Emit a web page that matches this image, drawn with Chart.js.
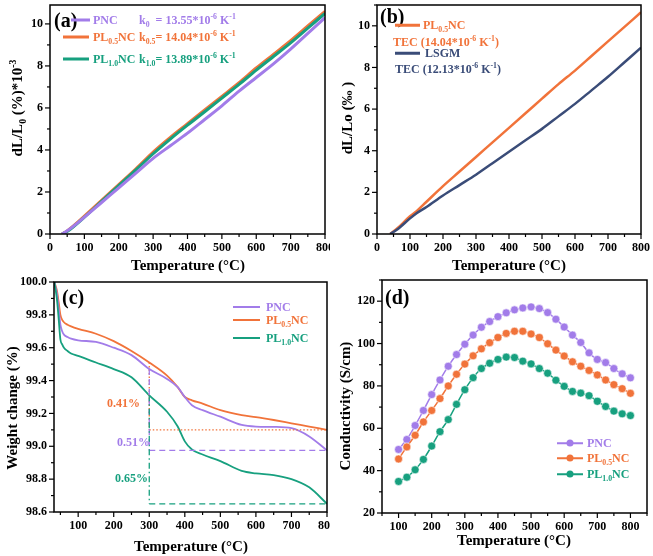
<!DOCTYPE html>
<html>
<head>
<meta charset="utf-8">
<script src="https://cdn.jsdelivr.net/npm/chart.js@4/dist/chart.umd.min.js"></script>
<style>
  body { margin: 0; background: #fff; }
  #wrap { position: relative; width: 653px; height: 556px; overflow: hidden; font-family: "Liberation Serif", "DejaVu Serif", serif; font-weight: bold; }
  canvas { position: absolute; }
  .t { position: absolute; white-space: nowrap; transform: translateY(-50%); line-height: 1; }
  .rot { position: absolute; white-space: nowrap; transform: translate(-50%, -50%) rotate(-90deg); line-height: 1; }
  .ctr { position: absolute; white-space: nowrap; transform: translate(-50%, -50%); line-height: 1; }
  sub, sup { font-size: 65%; line-height: 0; }
  .ls { position: absolute; height: 3px; transform: translateY(-50%); }
  .dot { position: absolute; width: 7px; height: 7px; border-radius: 50%; transform: translate(-50%, -50%); }
</style>
</head>
<body>
<div id="wrap">
  <canvas id="chartA" width="330" height="275" style="left:0;top:0"></canvas>
  <canvas id="chartB" width="323" height="275" style="left:330px;top:0"></canvas>
  <canvas id="chartC" width="330" height="281" style="left:0;top:275px"></canvas>
  <canvas id="chartD" width="323" height="281" style="left:330px;top:275px"></canvas>
</div>
<script>
const PURPLE = "#a27ce9";
const ORANGE = "#f1733a";
const GREEN = "#17a07f";
const NAVY = "#3a4c78";

// ---------- (a) dilatometry ----------
const tempA = [35, 50, 100, 150, 200, 250, 300, 350, 400, 450, 500, 550, 600, 650, 700, 750, 800];
const dilPNC = [0, 0.15, 0.8, 1.5, 2.2, 2.9, 3.6, 4.2, 4.8, 5.45, 6.1, 6.8, 7.45, 8.1, 8.8, 9.55, 10.3];
const dilPL05 = [0, 0.15, 0.85, 1.6, 2.35, 3.1, 3.9, 4.6, 5.25, 5.9, 6.55, 7.2, 7.9, 8.55, 9.2, 9.9, 10.6];
const dilPL10 = [0, 0.12, 0.8, 1.55, 2.3, 3.05, 3.82, 4.52, 5.18, 5.82, 6.47, 7.12, 7.8, 8.45, 9.1, 9.8, 10.5];
const xTicksA = [0, 100, 200, 300, 400, 500, 600, 700, 800];
const yTicksA = [0, 2, 4, 6, 8, 10];

// ---------- (b) PL0.5NC vs LSGM ----------
const tempB = [40, 60, 100, 120, 150, 200, 250, 300, 350, 400, 450, 500, 550, 600, 650, 700, 750, 800];
const dilBPL05 = [0, 0.25, 0.85, 1.1, 1.55, 2.3, 3.0, 3.7, 4.4, 5.1, 5.8, 6.5, 7.2, 7.85, 8.55, 9.25, 9.95, 10.65];
const dilLSGM = [0, 0.2, 0.75, 1.0, 1.3, 1.85, 2.35, 2.85, 3.4, 3.95, 4.5, 5.05, 5.65, 6.25, 6.9, 7.55, 8.25, 8.95];
const xTicksB = [0, 100, 200, 300, 400, 500, 600, 700, 800];
const yTicksB = [0, 2, 4, 6, 8, 10];

// ---------- (c) TGA ----------
const tempC = [33, 40, 45, 50, 55, 60, 70, 80, 100, 150, 200, 250, 300, 350, 380, 400, 420, 450, 500, 560, 600, 650, 700, 750, 800];
const wPNC = [100.0, 99.93, 99.84, 99.74, 99.70, 99.68, 99.665, 99.655, 99.645, 99.635, 99.60, 99.555, 99.47, 99.41, 99.36, 99.30, 99.25, 99.22, 99.18, 99.13, 99.12, 99.118, 99.11, 99.06, 98.975];
const wPL05 = [100.0, 99.95, 99.88, 99.80, 99.77, 99.755, 99.74, 99.73, 99.715, 99.685, 99.64, 99.58, 99.51, 99.43, 99.36, 99.30, 99.28, 99.26, 99.22, 99.19, 99.178, 99.16, 99.14, 99.12, 99.10];
const wPL10 = [100.0, 99.90, 99.78, 99.65, 99.62, 99.60, 99.58, 99.565, 99.55, 99.51, 99.47, 99.42, 99.31, 99.21, 99.12, 99.03, 98.98, 98.95, 98.91, 98.85, 98.835, 98.825, 98.80, 98.75, 98.65];
// weight-loss guide lines: start temp, end temp, top and bottom levels (PL0.5, PNC, PL1.0)
const lossFrom = 300;
const lossTo = 800;
const lossTop = [99.51, 99.47, 99.31];
const lossBottom = [99.10, 98.975, 98.65];
const xTicksC = [100, 200, 300, 400, 500, 600, 700, 800];
const yTicksC = [98.6, 98.8, 99.0, 99.2, 99.4, 99.6, 99.8, 100.0];

// ---------- (d) conductivity ----------
const tempD = [100, 125, 150, 175, 200, 225, 250, 275, 300, 325, 350, 375, 400, 425, 450, 475, 500, 525, 550, 575, 600, 625, 650, 675, 700, 725, 750, 775, 800];
const sPNC = [50, 54.7, 61.3, 68.4, 75.9, 82.8, 89.3, 94.8, 99.7, 104, 107.7, 110.4, 112.7, 114.5, 115.9, 116.8, 117.3, 116.5, 114.6, 111.5, 107.8, 104, 100.5, 95.6, 92.5, 91, 88.2, 85.7, 83.8];
const sPL05 = [45.5, 51.2, 56.7, 63, 68.4, 74, 80, 85.5, 90.3, 94.2, 97.5, 100.4, 102.8, 104.8, 105.8, 105.8, 104.5, 102.8, 99.9, 96.9, 94.1, 91.4, 89.3, 87.3, 85.2, 82.8, 80.6, 78.7, 76.5];
const sPL10 = [34.9, 36.9, 40.4, 45.3, 51.6, 58.4, 64.1, 71.3, 78.2, 83.9, 88.2, 90.7, 92.5, 93.6, 93.4, 91.7, 90.4, 88.2, 86, 82.7, 79.8, 77.4, 76.6, 75.4, 72.7, 70.3, 68.1, 66.8, 66];
const xTicksD = [100, 200, 300, 400, 500, 600, 700, 800];
const yTicksD = [20, 40, 60, 80, 100, 120];

function pts(xs, ys) {
  return xs.map((x, i) => ({ x: x, y: ys[i] }));
}

// frame box + outward major/minor ticks drawn through the chart scales
const frameTicks = {
  id: "frameTicks",
  afterDraw(chart, args, opts) {
    const { ctx, chartArea: a, scales } = chart;
    const x = scales.x, y = scales.y;
    ctx.save();
    ctx.strokeStyle = "#000";
    ctx.lineWidth = 1.5;
    ctx.strokeRect(a.left, a.top, a.right - a.left, a.bottom - a.top);
    ctx.lineWidth = 1.2;
    const seg = (x1, y1, x2, y2) => { ctx.beginPath(); ctx.moveTo(x1, y1); ctx.lineTo(x2, y2); ctx.stroke(); };
    const minors = (ticks, lo, hi) => {
      const step = ticks[1] - ticks[0];
      const out = [];
      for (let v = ticks[0] - step / 2; v <= hi + 1e-9; v += step) if (v >= lo - 1e-9) out.push(v);
      return out;
    };
    opts.xt.forEach(v => { const p = x.getPixelForValue(v); seg(p, a.bottom, p, a.bottom + 5); });
    minors(opts.xt, x.min, x.max).forEach(v => { const p = x.getPixelForValue(v); seg(p, a.bottom, p, a.bottom + 3); });
    opts.yt.forEach(v => { const p = y.getPixelForValue(v); seg(a.left, p, a.left - 5, p); });
    minors(opts.yt, y.min, y.max).forEach(v => { const p = y.getPixelForValue(v); seg(a.left, p, a.left - 3, p); });
    ctx.restore();
  }
};

const tickFont = { family: "Liberation Serif", weight: "bold", size: 12 };

function makeChart(id, datasets, cfg) {
  return new Chart(document.getElementById(id), {
    type: "line",
    data: { datasets },
    options: {
      responsive: false,
      animation: false,
      layout: { padding: cfg.pad },
      plugins: {
        legend: { display: false },
        tooltip: { enabled: false },
        frameTicks: { xt: cfg.xt, yt: cfg.yt }
      },
      elements: { point: { radius: 0 } },
      scales: {
        x: {
          type: "linear", min: cfg.xmin, max: cfg.xmax,
          grid: { display: false, drawTicks: false }, border: { display: false },
          afterBuildTicks: s => { s.ticks = cfg.xt.map(v => ({ value: v })); },
          afterFit: s => { s.height = cfg.xh; s.paddingLeft = 0; s.paddingRight = 0; },
          ticks: { font: tickFont, color: "#000", padding: 7, maxRotation: 0, autoSkip: false }
        },
        y: {
          type: "linear", min: cfg.ymin, max: cfg.ymax,
          grid: { display: false, drawTicks: false }, border: { display: false },
          afterBuildTicks: s => { s.ticks = cfg.yt.map(v => ({ value: v })); },
          afterFit: s => { s.width = cfg.yw; s.paddingTop = 0; s.paddingBottom = 0; },
          ticks: { font: tickFont, color: "#000", padding: 7, autoSkip: false,
                   callback: v => cfg.ydec ? v.toFixed(cfg.ydec) : v }
        }
      }
    },
    plugins: [frameTicks]
  });
}

function line(data, color, width, extra) {
  return Object.assign({ data, borderColor: color, backgroundColor: color, borderWidth: width,
    cubicInterpolationMode: "monotone", pointRadius: 0, fill: false }, extra || {});
}

makeChart("chartA", [
  line(pts(tempA, dilPNC), PURPLE, 3),
  line(pts(tempA, dilPL10), GREEN, 3),
  line(pts(tempA, dilPL05), ORANGE, 3)
], { pad: { left: 0, right: 5, top: 5, bottom: 0 }, xmin: 0, xmax: 800, ymin: 0, ymax: 10.9, xt: xTicksA, yt: yTicksA, xh: 41, yw: 50 });

makeChart("chartB", [
  line(pts(tempB, dilLSGM), NAVY, 2.5),
  line(pts(tempB, dilBPL05), ORANGE, 2.5)
], { pad: { left: 0, right: 12, top: 5, bottom: 0 }, xmin: 0, xmax: 800, ymin: 0, ymax: 11, xt: xTicksB, yt: yTicksB, xh: 41, yw: 47 });

const lossColors = [ORANGE, PURPLE, GREEN];
const lossDash = [[1.5, 2], [6, 4], [6, 3, 1.5, 3]];
const guides = [];
[2, 1, 0].forEach(i => {
  guides.push(line([{ x: lossFrom, y: lossTop[i] }, { x: lossFrom, y: lossBottom[i] }], lossColors[i], 1.3,
    { borderDash: lossDash[i], cubicInterpolationMode: "default", tension: 0 }));
  guides.push(line([{ x: lossFrom, y: lossBottom[i] }, { x: lossTo, y: lossBottom[i] }], lossColors[i], 1.3,
    { borderDash: i === 0 ? lossDash[0] : [6, 4], cubicInterpolationMode: "default", tension: 0 }));
});
makeChart("chartC", guides.concat([
  line(pts(tempC, wPL10), GREEN, 1.8),
  line(pts(tempC, wPNC), PURPLE, 1.8),
  line(pts(tempC, wPL05), ORANGE, 1.8)
]), { pad: { left: 0, right: 3, top: 7, bottom: 0 }, xmin: 32, xmax: 800, ymin: 98.6, ymax: 100.0, xt: xTicksC, yt: yTicksC, xh: 44, yw: 54, ydec: 1 });

const marker = (c) => ({ pointRadius: 4, pointBackgroundColor: c, pointBorderColor: "rgba(255,255,255,0.55)", pointBorderWidth: 1, cubicInterpolationMode: "default", tension: 0.3 });
makeChart("chartD", [
  line(pts(tempD, sPL10), GREEN, 1.5, marker(GREEN)),
  line(pts(tempD, sPL05), ORANGE, 1.5, marker(ORANGE)),
  line(pts(tempD, sPNC), PURPLE, 1.5, marker(PURPLE))
], { pad: { left: 0, right: 6, top: 5, bottom: 0 }, xmin: 50, xmax: 850, ymin: 20, ymax: 130, xt: xTicksD, yt: yTicksD, xh: 43, yw: 52 });

// ---------- text overlays ----------
const wrap = document.getElementById("wrap");
function put(cls, html, x, y, size, color) {
  const d = document.createElement("div");
  d.className = cls;
  d.innerHTML = html;
  d.style.left = x + "px";
  d.style.top = y + "px";
  d.style.fontSize = size + "px";
  d.style.color = color || "#000";
  wrap.appendChild(d);
}
function swatch(x1, x2, y, color, h, withDot) {
  const s = document.createElement("div");
  s.className = "ls";
  s.style.cssText += `left:${x1}px;top:${y}px;width:${x2 - x1}px;background:${color};height:${h}px`;
  wrap.appendChild(s);
  if (withDot) {
    const d = document.createElement("div");
    d.className = "dot";
    d.style.cssText += `left:${(x1 + x2) / 2}px;top:${y}px;background:${color}`;
    wrap.appendChild(d);
  }
}

// axis titles
put("ctr", "Temperature (°C)", 188, 265, 15);
put("ctr", "Temperature (°C)", 509, 265, 15);
put("ctr", "Temperature (°C)", 191, 546, 15);
put("ctr", "Temperature (°C)", 514, 540, 15);
put("rot", "dL/L<sub>0</sub> (%)*10<sup>-3</sup>", 17, 108, 15);
put("rot", "dL/Lo (‰ )", 347, 118, 15);
put("rot", "Weight change (%)", 12, 408, 15);
put("rot", "Conductivity (S/cm)", 345, 406, 15);

// panel labels
put("t", "(a)", 54, 20, 20);
put("t", "(b)", 380, 16, 20);
put("t", "(c)", 62, 297, 20);
put("t", "(d)", 385, 297, 20);

// legend (a)
swatch(71, 90, 20, PURPLE, 3);
swatch(63, 89, 37, ORANGE, 3);
swatch(63, 89, 59, GREEN, 3);
put("t", "PNC", 93, 20, 12, PURPLE);
put("t", "PL<sub>0.5</sub>NC", 93, 37, 12, ORANGE);
put("t", "PL<sub>1.0</sub>NC", 93, 59, 12, GREEN);
put("t", "k<sub>0</sub>&nbsp; = 13.55*10<sup>-6</sup> K<sup>-1</sup>", 139, 20, 12, PURPLE);
put("t", "k<sub>0.5</sub>= 14.04*10<sup>-6</sup> K<sup>-1</sup>", 139, 37, 12, ORANGE);
put("t", "k<sub>1.0</sub>= 13.89*10<sup>-6</sup> K<sup>-1</sup>", 139, 59, 12, GREEN);

// legend (b)
swatch(395, 420, 25, ORANGE, 2.5);
put("t", "PL<sub>0.5</sub>NC", 423, 25, 12, ORANGE);
put("t", "TEC (14.04*10<sup>-6</sup> K<sup>-1</sup>)", 393, 42, 12, ORANGE);
swatch(395, 420, 53, NAVY, 2.5);
put("t", "LSGM", 425, 53, 12, NAVY);
put("t", "TEC (12.13*10<sup>-6</sup> K<sup>-1</sup>)", 395, 69, 12, NAVY);

// legend (c)
swatch(233, 260, 307, PURPLE, 2);
swatch(233, 260, 320, ORANGE, 2);
swatch(233, 260, 338, GREEN, 2);
put("t", "PNC", 266, 307, 12, PURPLE);
put("t", "PL<sub>0.5</sub>NC", 266, 320, 12, ORANGE);
put("t", "PL<sub>1.0</sub>NC", 266, 338, 12, GREEN);

// loss labels (c)
put("t", "0.41%", 107, 403, 12, ORANGE);
put("t", "0.51%", 117, 442, 12, PURPLE);
put("t", "0.65%", 115, 478, 12, GREEN);

// legend (d)
swatch(557, 583, 443, PURPLE, 1.5, true);
swatch(557, 583, 458, ORANGE, 1.5, true);
swatch(557, 583, 474, GREEN, 1.5, true);
put("t", "PNC", 587, 443, 12, PURPLE);
put("t", "PL<sub>0.5</sub>NC", 587, 458, 12, ORANGE);
put("t", "PL<sub>1.0</sub>NC", 587, 474, 12, GREEN);
</script>
</body>
</html>
